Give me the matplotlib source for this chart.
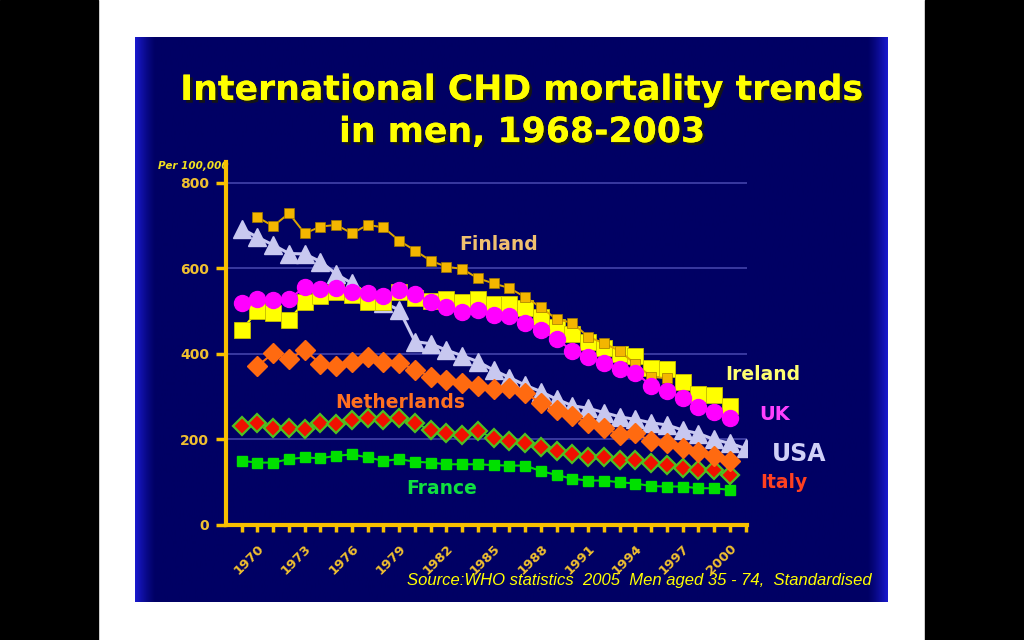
import numpy as np
import matplotlib
matplotlib.use('Agg')
import matplotlib.pyplot as plt
import matplotlib.patheffects as pe
from matplotlib.patches import Rectangle

# ---------------- data (deaths per 100,000) ----------------
years_finland = list(range(1970, 1997))
finland = [720, 699, 729, 682, 698, 702, 682, 702, 696, 665, 642, 618, 604, 599,
           577, 565, 554, 533, 509, 481, 473, 440, 425, 407, 376, 347, 343]

years_usa = list(range(1969, 2002))
usa = [693, 673, 655, 635, 634, 616, 587, 565, 540, 520, 503, 429, 424, 409, 396,
       382, 362, 345, 327, 312, 294, 279, 273, 263, 253, 247, 239, 234, 222, 214,
       200, 191, 179]

years_ireland = list(range(1969, 2001))
ireland = [457, 500, 495, 480, 522, 535, 544, 538, 522, 522, 546, 530, 524, 528, 522,
           528, 518, 517, 507, 487, 464, 446, 427, 414, 400, 396, 368, 365, 335, 307,
           303, 278]

years_uk = list(range(1969, 2001))
uk = [520, 528, 526, 529, 556, 551, 554, 546, 542, 536, 550, 540, 522, 509, 499, 503,
      491, 489, 472, 455, 434, 408, 392, 380, 365, 356, 326, 313, 298, 277, 265, 250]

years_neth = list(range(1970, 2001))
netherlands = [372, 402, 388, 409, 377, 373, 382, 394, 382, 379, 363, 347, 339, 333,
               325, 317, 321, 309, 285, 269, 255, 239, 228, 211, 215, 196, 191, 181,
               170, 162, 150]

years_italy = list(range(1969, 2001))
italy = [232, 239, 226, 228, 224, 238, 236, 246, 251, 246, 250, 238, 222, 216, 211,
         220, 203, 197, 191, 183, 173, 166, 158, 158, 152, 152, 144, 140, 134, 129,
         129, 117]

years_france = list(range(1969, 2001))
france = [150, 146, 146, 154, 158, 156, 162, 165, 158, 150, 154, 148, 146, 142, 142,
          142, 140, 139, 139, 126, 117, 108, 104, 104, 100, 97, 91, 90, 90, 86, 86, 82]

label_years = list(range(1970, 2001, 3))
y_ticks = [0, 200, 400, 600, 800]

title = "International CHD mortality trends\nin men, 1968-2003"
source = "Source:WHO statistics  2005  Men aged 35 - 74,  Standardised"

# ---------------- figure / slide background ----------------
fig = plt.figure(figsize=(10.24, 6.4), dpi=100)
fig.patch.set_facecolor('white')
bg = fig.add_axes([0, 0, 1, 1])
bg.axis('off')
bg.add_patch(Rectangle((0, 0), 98, 640, color='black'))
bg.add_patch(Rectangle((925, 0), 99, 640, color='black'))

x0s, x1s, y0s, y1s = 135, 888, 37, 602
W = x1s - x0s
xs = np.linspace(0, 1, 600)
left = np.clip(1 - (xs * W) / 20.0, 0, 1)
right = np.clip(1 - ((1 - xs) * W) / 20.0, 0, 1)
edge = np.maximum(left, right) ** 1.3
navy = np.array([0, 0, 100]) / 255
bright = np.array([25, 25, 205]) / 255
img = navy[None, :] * (1 - edge[:, None]) + bright[None, :] * edge[:, None]
bg.imshow(img[None, :, :], extent=(x0s, x1s, y1s, y0s), aspect='auto',
          interpolation='bilinear', zorder=1)
bg.set_xlim(0, 1024)
bg.set_ylim(640, 0)

gold = '#F8C000'

# title
bg.text(522, 111, title, ha='center', va='center', fontsize=25, fontweight='bold',
        color='#FFFF00', linespacing=1.3, zorder=5,
        path_effects=[pe.withSimplePatchShadow(offset=(2, -2), shadow_rgbFace='#151515',
                                               alpha=1.0), pe.Normal()])

bg.text(193, 166, "Per 100,000", ha='center', va='center', fontsize=7.5,
        fontweight='bold', fontstyle='italic', color='#F0E020', zorder=5)

bg.text(872, 581, source, ha='right', va='center', fontsize=12, fontstyle='italic',
        color='#FFFF00', family=['Liberation Sans', 'DejaVu Sans'], zorder=5)

# ---------------- main axes ----------------
ax_l, ax_r = 226, 747.3
ax_b, ax_t = 525, 161.6
ax = fig.add_axes([ax_l / 1024, 1 - ax_b / 640, (ax_r - ax_l) / 1024, (ax_b - ax_t) / 640])
ax.patch.set_alpha(0)
ax.set_xlim(1968, 2001.1)
ax.set_ylim(0, 850)

for v in y_ticks[1:]:
    ax.axhline(v, color='#4848B0', lw=1.1, zorder=1)

# series
ax.plot(years_usa, usa, color='#C8C8F0', lw=2.2, marker='^', markersize=13,
        markerfacecolor='#C8C8F0', markeredgecolor='#C8C8F0', zorder=2)
ax.plot(years_france, france, color='#00DD00', lw=1.5, marker='s', markersize=7.5,
        markerfacecolor='#00E000', markeredgecolor='#00E000', zorder=3)
ax.plot(years_italy, italy, color='#40C020', lw=1.3, marker='D', markersize=9,
        markerfacecolor='#F01000', markeredgecolor='#50C020', markeredgewidth=1.6, zorder=3)
ax.plot(years_neth, netherlands, color='#FF6A10', lw=1.5, marker='D', markersize=10,
        markerfacecolor='#FF6A10', markeredgecolor='#FF6A10', zorder=3)
ax.plot(years_ireland, ireland, color='#FFFF00', lw=1.5, marker='s', markersize=12,
        markerfacecolor='#FFFF00', markeredgecolor='#C8C000', markeredgewidth=0.6, zorder=4)
ax.plot(years_finland, finland, color='#DDA500', lw=1.4, marker='s', markersize=6.5,
        markerfacecolor='#F4B600', markeredgecolor='#A07800', markeredgewidth=0.5, zorder=5)
ax.plot(years_uk, uk, color='#FF00FF', lw=1.5, marker='o', markersize=11.5,
        markerfacecolor='#FF00FF', markeredgecolor='#FF00FF', zorder=6)

# axes styling
for s in ['top', 'right']:
    ax.spines[s].set_visible(False)
for s in ['left', 'bottom']:
    ax.spines[s].set_color(gold)
    ax.spines[s].set_linewidth(3)
    ax.spines[s].set_zorder(7)

ax.set_yticks(y_ticks)
ax.set_yticklabels([str(v) for v in y_ticks])
ax.tick_params(axis='y', colors=gold, length=7, width=2.5, direction='out', pad=5,
               labelsize=10)
for lab in ax.get_yticklabels():
    lab.set_fontweight('bold')
    lab.set_color('#F0C030')

ax.set_xticks(label_years)
ax.set_xticks(list(range(1969, 2002)), minor=True)
ax.set_xticklabels([str(y) for y in label_years], rotation=45, ha='right', va='top',
                   rotation_mode='anchor')
ax.tick_params(axis='x', which='both', colors=gold, length=5, width=2.5,
               direction='out', pad=7, labelsize=9.5)
for lab in ax.get_xticklabels():
    lab.set_fontweight('bold')
    lab.set_color('#F0C030')

# series labels
bg.text(499, 244, "Finland", ha='center', va='center', fontsize=13.5, fontweight='bold',
        color='#F0C070', zorder=8)
bg.text(763, 374, "Ireland", ha='center', va='center', fontsize=13.5, fontweight='bold',
        color='#FFFF70', zorder=8)
bg.text(775, 414, "UK", ha='center', va='center', fontsize=14, fontweight='bold',
        color='#FF40FF', zorder=8)
bg.text(799, 454, "USA", ha='center', va='center', fontsize=17, fontweight='bold',
        color='#D0D0F8', zorder=8)
bg.text(784, 483, "Italy", ha='center', va='center', fontsize=13.5, fontweight='bold',
        color='#FF4020', zorder=8)
bg.text(400, 402, "Netherlands", ha='center', va='center', fontsize=13.5,
        fontweight='bold', color='#FF7020', zorder=8)
bg.text(442, 488, "France", ha='center', va='center', fontsize=13.5, fontweight='bold',
        color='#10E040', zorder=8)

fig.savefig('out.png', dpi=100, facecolor=fig.get_facecolor())
